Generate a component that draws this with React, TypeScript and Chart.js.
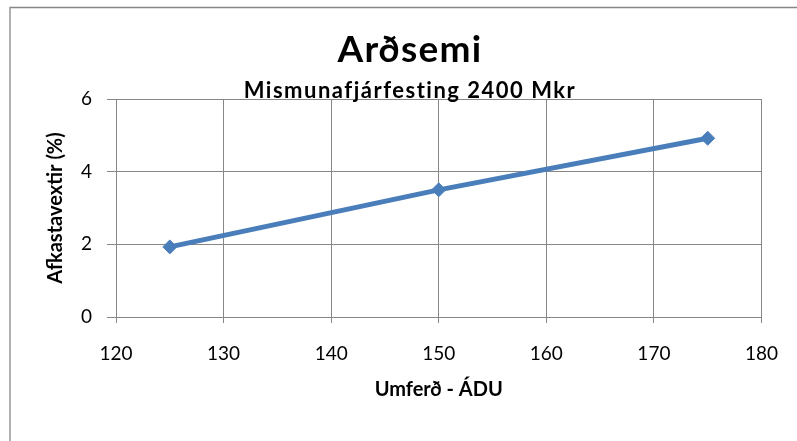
import React, { useEffect, useRef } from "react";
import { Chart, registerables } from "chart.js";

Chart.register(...registerables);

const titleText = "Arðsemi";
const subtitleText = "Mismunafjárfesting 2400 Mkr";
const xAxisTitle = "Umferð - ÁDU";
const yAxisTitle = "Afkastavextir (%)";
const umferd = [125, 150, 175];
const afkastavextir = [1.93, 3.5, 4.92];
const xMin = 120;
const xMax = 180;
const xStep = 10;
const yMin = 0;
const yMax = 6;
const yStep = 2;

const FONT = "Lato, 'Open Sans', sans-serif";
const GRID = "#878787";
const BLUE = "#4a7ebb";

const frameAndTitles = {
  id: "frameAndTitles",
  beforeDraw(chart: any) {
    const ctx = chart.ctx;
    ctx.save();
    ctx.strokeStyle = GRID;
    ctx.lineWidth = 1.3;
    ctx.beginPath();
    ctx.moveTo(10, 460);
    ctx.lineTo(10, 7.5);
    ctx.lineTo(820, 7.5);
    ctx.stroke();
    ctx.restore();
  },
  afterDraw(chart: any) {
    const ctx = chart.ctx;
    ctx.save();
    ctx.fillStyle = "#000";
    ctx.textAlign = "center";
    ctx.textBaseline = "alphabetic";
    ctx.font = `bold 37px ${FONT}`;
    (ctx as any).letterSpacing = "1.3px";
    ctx.fillText(titleText, 410, 62);
    ctx.font = `bold 22px ${FONT}`;
    (ctx as any).letterSpacing = "1.5px";
    ctx.fillText(subtitleText, 410, 98);
    ctx.restore();
  },
};

export default function App() {
  const ref = useRef<HTMLCanvasElement | null>(null);

  useEffect(() => {
    if (!ref.current) return;
    const chart = new Chart(ref.current, {
      type: "scatter",
      data: {
        datasets: [
          {
            data: umferd.map((x, i) => ({ x, y: afkastavextir[i] })),
            showLine: true,
            borderColor: BLUE,
            backgroundColor: BLUE,
            borderWidth: 5,
            pointStyle: "rectRot",
            pointRadius: 7,
            pointBorderWidth: 1,
            pointBorderColor: BLUE,
            pointBackgroundColor: BLUE,
          },
        ],
      },
      options: {
        responsive: false,
        animation: false,
        events: [],
        layout: { padding: { top: 99, left: 38, right: 34, bottom: 0 } },
        plugins: {
          legend: { display: false },
          title: { display: false },
          tooltip: { enabled: false },
        },
        scales: {
          x: {
            type: "linear",
            min: xMin,
            max: xMax,
            afterFit: (s: any) => {
              s.height = 124;
            },
            ticks: {
              stepSize: xStep,
              color: "#000",
              padding: 19,
              font: { family: FONT, size: 19 },
            },
            grid: { color: GRID, tickLength: 6, lineWidth: 1 },
            border: { color: GRID, width: 1 },
            title: {
              display: true,
              text: xAxisTitle,
              color: "#000",
              font: { family: FONT, size: 20, weight: "bold" },
              padding: { top: 0, bottom: 39 },
            },
          },
          y: {
            type: "linear",
            min: yMin,
            max: yMax,
            afterFit: (s: any) => {
              s.width = 78;
            },
            ticks: {
              stepSize: yStep,
              color: "#000",
              padding: 15,
              font: { family: FONT, size: 19 },
            },
            grid: { color: GRID, tickLength: 9, lineWidth: 1 },
            border: { color: GRID, width: 1 },
            title: {
              display: true,
              text: yAxisTitle,
              color: "#000",
              font: { family: FONT, size: 20, weight: "bold" },
              padding: { top: 6, bottom: 0 },
            },
          },
        },
      },
      plugins: [frameAndTitles],
    });
    return () => chart.destroy();
  }, []);

  return (
    <div style={{ position: "fixed", left: 0, top: 0, width: 797, height: 441, background: "#fff" }}>
      <canvas ref={ref} width={797} height={441} style={{ display: "block" }} />
    </div>
  );
}
